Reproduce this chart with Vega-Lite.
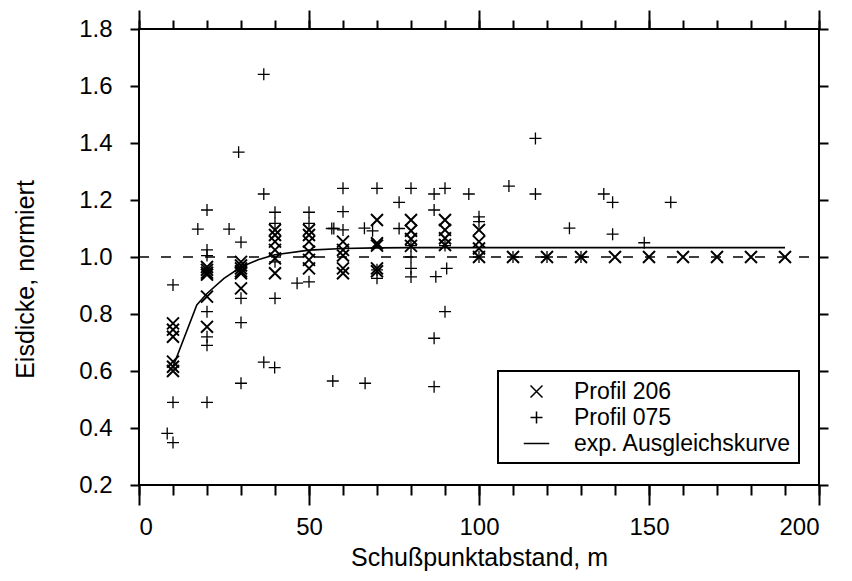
{
  "$schema": "https://vega.github.io/schema/vega-lite/v6.json",
  "width": 680,
  "height": 456,
  "autosize": "none",
  "padding": {"left": 139, "top": 29, "right": 33, "bottom": 96},
  "background": "white",
  "config": {
    "view": {"stroke": "black", "strokeWidth": 2},
    "font": "Liberation Sans",
    "axis": {
      "domain": false,
      "grid": false,
      "tickColor": "black",
      "tickWidth": 2,
      "labelColor": "black",
      "labelFont": "Liberation Sans",
      "labelFontSize": 24,
      "titleFont": "Liberation Sans",
      "titleFontSize": 25,
      "titleFontWeight": "normal",
      "titleColor": "black"
    },
    "legend": {"strokeWidth": 2}
  },
  "datasets": {
    "ref": [{"x": 0, "x2": 200, "y": 1.0}],
    "curve": [
      {"x": 10, "y": 0.615}, {"x": 17, "y": 0.832}, {"x": 20, "y": 0.872},
      {"x": 25, "y": 0.925}, {"x": 30, "y": 0.965}, {"x": 35, "y": 0.99},
      {"x": 40, "y": 1.008}, {"x": 50, "y": 1.024}, {"x": 60, "y": 1.03},
      {"x": 70, "y": 1.032}, {"x": 80, "y": 1.033}, {"x": 190, "y": 1.033}
    ],
    "p206": [
      {"x": 10, "y": 0.767, "series": "Profil 206"}, {"x": 10, "y": 0.745, "series": "Profil 206"},
      {"x": 10, "y": 0.72, "series": "Profil 206"}, {"x": 10, "y": 0.633, "series": "Profil 206"},
      {"x": 10, "y": 0.615, "series": "Profil 206"}, {"x": 10, "y": 0.6, "series": "Profil 206"},
      {"x": 20, "y": 0.965, "series": "Profil 206"}, {"x": 20, "y": 0.955, "series": "Profil 206"},
      {"x": 20, "y": 0.945, "series": "Profil 206"}, {"x": 20, "y": 0.938, "series": "Profil 206"},
      {"x": 20, "y": 0.861, "series": "Profil 206"}, {"x": 20, "y": 0.755, "series": "Profil 206"},
      {"x": 30, "y": 0.983, "series": "Profil 206"}, {"x": 30, "y": 0.97, "series": "Profil 206"},
      {"x": 30, "y": 0.96, "series": "Profil 206"}, {"x": 30, "y": 0.95, "series": "Profil 206"},
      {"x": 30, "y": 0.943, "series": "Profil 206"}, {"x": 30, "y": 0.89, "series": "Profil 206"},
      {"x": 40, "y": 1.095, "series": "Profil 206"}, {"x": 40, "y": 1.077, "series": "Profil 206"},
      {"x": 40, "y": 1.054, "series": "Profil 206"}, {"x": 40, "y": 1.025, "series": "Profil 206"},
      {"x": 40, "y": 0.995, "series": "Profil 206"}, {"x": 40, "y": 0.943, "series": "Profil 206"},
      {"x": 50, "y": 1.095, "series": "Profil 206"}, {"x": 50, "y": 1.077, "series": "Profil 206"},
      {"x": 50, "y": 1.054, "series": "Profil 206"}, {"x": 50, "y": 1.019, "series": "Profil 206"},
      {"x": 50, "y": 0.99, "series": "Profil 206"}, {"x": 50, "y": 0.96, "series": "Profil 206"},
      {"x": 60, "y": 1.054, "series": "Profil 206"}, {"x": 60, "y": 1.025, "series": "Profil 206"},
      {"x": 60, "y": 1.005, "series": "Profil 206"}, {"x": 60, "y": 0.96, "series": "Profil 206"},
      {"x": 60, "y": 0.943, "series": "Profil 206"},
      {"x": 70, "y": 1.13, "series": "Profil 206"}, {"x": 70, "y": 1.048, "series": "Profil 206"},
      {"x": 70, "y": 1.04, "series": "Profil 206"}, {"x": 70, "y": 0.96, "series": "Profil 206"},
      {"x": 70, "y": 0.95, "series": "Profil 206"},
      {"x": 80, "y": 1.13, "series": "Profil 206"}, {"x": 80, "y": 1.092, "series": "Profil 206"},
      {"x": 80, "y": 1.063, "series": "Profil 206"}, {"x": 80, "y": 1.039, "series": "Profil 206"},
      {"x": 90, "y": 1.13, "series": "Profil 206"}, {"x": 90, "y": 1.095, "series": "Profil 206"},
      {"x": 90, "y": 1.066, "series": "Profil 206"}, {"x": 90, "y": 1.042, "series": "Profil 206"},
      {"x": 100, "y": 1.095, "series": "Profil 206"}, {"x": 100, "y": 1.054, "series": "Profil 206"},
      {"x": 100, "y": 1.03, "series": "Profil 206"}, {"x": 100, "y": 1.0, "series": "Profil 206"},
      {"x": 110, "y": 1.0, "series": "Profil 206"}, {"x": 120, "y": 1.0, "series": "Profil 206"},
      {"x": 130, "y": 1.0, "series": "Profil 206"}, {"x": 140, "y": 1.0, "series": "Profil 206"},
      {"x": 150, "y": 1.0, "series": "Profil 206"}, {"x": 160, "y": 1.0, "series": "Profil 206"},
      {"x": 170, "y": 1.0, "series": "Profil 206"}, {"x": 180, "y": 1.0, "series": "Profil 206"},
      {"x": 190, "y": 1.0, "series": "Profil 206"}
    ],
    "p075": [
      {"x": 8.3, "y": 0.381, "series": "Profil 075"}, {"x": 10, "y": 0.349, "series": "Profil 075"},
      {"x": 10, "y": 0.49, "series": "Profil 075"}, {"x": 10, "y": 0.902, "series": "Profil 075"},
      {"x": 17.3, "y": 1.098, "series": "Profil 075"}, {"x": 20, "y": 1.165, "series": "Profil 075"},
      {"x": 20, "y": 1.025, "series": "Profil 075"}, {"x": 20, "y": 1.005, "series": "Profil 075"},
      {"x": 20, "y": 0.808, "series": "Profil 075"}, {"x": 20, "y": 0.72, "series": "Profil 075"},
      {"x": 20, "y": 0.69, "series": "Profil 075"}, {"x": 20, "y": 0.49, "series": "Profil 075"},
      {"x": 26.5, "y": 1.098, "series": "Profil 075"}, {"x": 29.3, "y": 1.368, "series": "Profil 075"},
      {"x": 30, "y": 1.052, "series": "Profil 075"}, {"x": 30, "y": 0.855, "series": "Profil 075"},
      {"x": 30, "y": 0.77, "series": "Profil 075"}, {"x": 30, "y": 0.557, "series": "Profil 075"},
      {"x": 36.7, "y": 1.641, "series": "Profil 075"}, {"x": 36.7, "y": 1.221, "series": "Profil 075"},
      {"x": 36.7, "y": 0.631, "series": "Profil 075"}, {"x": 40, "y": 1.157, "series": "Profil 075"},
      {"x": 40, "y": 1.118, "series": "Profil 075"}, {"x": 40, "y": 0.983, "series": "Profil 075"},
      {"x": 40, "y": 0.855, "series": "Profil 075"}, {"x": 39.9, "y": 0.612, "series": "Profil 075"},
      {"x": 46.5, "y": 0.908, "series": "Profil 075"}, {"x": 50, "y": 1.157, "series": "Profil 075"},
      {"x": 50, "y": 1.118, "series": "Profil 075"}, {"x": 50, "y": 0.913, "series": "Profil 075"},
      {"x": 56.7, "y": 1.1, "series": "Profil 075"}, {"x": 57.3, "y": 1.1, "series": "Profil 075"},
      {"x": 57, "y": 0.565, "series": "Profil 075"},
      {"x": 60, "y": 1.241, "series": "Profil 075"}, {"x": 60, "y": 1.159, "series": "Profil 075"},
      {"x": 60, "y": 1.095, "series": "Profil 075"},
      {"x": 66.3, "y": 1.101, "series": "Profil 075"}, {"x": 68.7, "y": 1.092, "series": "Profil 075"},
      {"x": 66.5, "y": 0.557, "series": "Profil 075"}, {"x": 70, "y": 1.241, "series": "Profil 075"},
      {"x": 70, "y": 0.955, "series": "Profil 075"}, {"x": 70, "y": 0.925, "series": "Profil 075"},
      {"x": 76.5, "y": 1.192, "series": "Profil 075"}, {"x": 76.5, "y": 1.1, "series": "Profil 075"},
      {"x": 80, "y": 1.241, "series": "Profil 075"}, {"x": 80, "y": 1.04, "series": "Profil 075"},
      {"x": 80, "y": 1.0, "series": "Profil 075"}, {"x": 80, "y": 0.96, "series": "Profil 075"},
      {"x": 80, "y": 0.93, "series": "Profil 075"},
      {"x": 86.8, "y": 1.221, "series": "Profil 075"}, {"x": 86.8, "y": 1.165, "series": "Profil 075"},
      {"x": 87.3, "y": 0.931, "series": "Profil 075"}, {"x": 86.8, "y": 0.715, "series": "Profil 075"},
      {"x": 86.8, "y": 0.545, "series": "Profil 075"},
      {"x": 90, "y": 1.241, "series": "Profil 075"}, {"x": 90, "y": 1.04, "series": "Profil 075"},
      {"x": 90.5, "y": 0.96, "series": "Profil 075"}, {"x": 90, "y": 0.808, "series": "Profil 075"},
      {"x": 97, "y": 1.221, "series": "Profil 075"}, {"x": 100, "y": 1.141, "series": "Profil 075"},
      {"x": 100, "y": 1.124, "series": "Profil 075"}, {"x": 100, "y": 1.0, "series": "Profil 075"},
      {"x": 108.8, "y": 1.249, "series": "Profil 075"}, {"x": 110, "y": 1.0, "series": "Profil 075"},
      {"x": 116.6, "y": 1.416, "series": "Profil 075"}, {"x": 116.6, "y": 1.221, "series": "Profil 075"},
      {"x": 120, "y": 1.0, "series": "Profil 075"}, {"x": 126.6, "y": 1.101, "series": "Profil 075"},
      {"x": 130, "y": 1.0, "series": "Profil 075"}, {"x": 136.7, "y": 1.221, "series": "Profil 075"},
      {"x": 139.3, "y": 1.192, "series": "Profil 075"}, {"x": 139.3, "y": 1.08, "series": "Profil 075"},
      {"x": 148.6, "y": 1.05, "series": "Profil 075"}, {"x": 156.4, "y": 1.192, "series": "Profil 075"}
    ]
  },
  "layer": [
    {
      "data": {"name": "ref"},
      "mark": {"type": "rule", "color": "black", "strokeWidth": 1.3, "strokeDash": [10, 12]},
      "encoding": {
        "x": {"field": "x", "type": "quantitative",
              "scale": {"domain": [0, 200], "nice": false, "zero": false},
              "axis": {"orient": "top", "values": [0, 50, 100, 150, 200], "tickSize": 19, "labels": false, "title": null}},
        "x2": {"field": "x2"},
        "y": {"field": "y", "type": "quantitative",
              "scale": {"domain": [0.2, 1.8], "nice": false, "zero": false},
              "axis": {"orient": "right", "values": [0.2, 0.4, 0.6, 0.8, 1.0, 1.2, 1.4, 1.6, 1.8], "tickSize": 9, "labels": false, "title": null}}
      }
    },
    {
      "data": {"name": "curve"},
      "mark": {"type": "line", "color": "black", "strokeWidth": 1.6},
      "encoding": {
        "x": {"field": "x", "type": "quantitative",
              "scale": {"domain": [0, 200], "nice": false, "zero": false},
              "axis": {"orient": "bottom", "values": [0, 10, 20, 30, 40, 50, 60, 70, 80, 90, 100, 110, 120, 130, 140, 150, 160, 170, 180, 190, 200], "tickSize": 10, "labels": false, "title": null}},
        "y": {"field": "y", "type": "quantitative",
              "scale": {"domain": [0.2, 1.8], "nice": false, "zero": false},
              "axis": null}
      }
    },
    {
      "data": {"name": "p206"},
      "mark": {"type": "point", "filled": false, "color": "black", "strokeWidth": 2, "size": 650, "opacity": 1},
      "encoding": {
        "x": {"field": "x", "type": "quantitative",
              "scale": {"domain": [0, 200], "nice": false, "zero": false},
              "axis": {"orient": "bottom", "values": [0, 50, 100, 150, 200], "format": "d", "tickSize": 20, "labelPadding": 10, "title": "Schußpunktabstand, m", "titlePadding": 6}},
        "y": {"field": "y", "type": "quantitative",
              "scale": {"domain": [0.2, 1.8], "nice": false, "zero": false},
              "axis": {"orient": "left", "values": [0.2, 0.4, 0.6, 0.8, 1.0, 1.2, 1.4, 1.6, 1.8], "format": ".1f", "tickSize": 9, "labelPadding": 18, "title": "Eisdicke, normiert", "titlePadding": 40, "titleY": 250}},
        "shape": {"field": "series", "type": "nominal",
                  "scale": {"domain": ["Profil 206", "Profil 075", "exp. Ausgleichskurve"],
                            "range": ["M-0.47,-0.47L0.47,0.47M-0.47,0.47L0.47,-0.47", "M-0.47,0L0.47,0M0,-0.47L0,0.47", "stroke"]},
                  "legend": {"orient": "none", "legendX": 359, "legendY": 342, "title": null,
                             "strokeColor": "black", "fillColor": "white", "padding": 7,
                             "symbolOffset": 18, "labelOffset": 24, "labelFontSize": 23, "labelFont": "Liberation Sans",
                             "labelLimit": 400,
                             "labelColor": "black", "symbolSize": 650, "symbolStrokeWidth": 1.5,
                             "symbolStrokeColor": "black", "rowPadding": 0}}
      }
    },
    {
      "data": {"name": "p075"},
      "mark": {"type": "point", "filled": false, "color": "black", "strokeWidth": 1.3, "size": 650, "opacity": 1},
      "encoding": {
        "x": {"field": "x", "type": "quantitative",
              "scale": {"domain": [0, 200], "nice": false, "zero": false},
              "axis": {"orient": "top", "values": [0, 10, 20, 30, 40, 50, 60, 70, 80, 90, 100, 110, 120, 130, 140, 150, 160, 170, 180, 190, 200], "tickSize": 9, "labels": false, "title": null}},
        "y": {"field": "y", "type": "quantitative",
              "scale": {"domain": [0.2, 1.8], "nice": false, "zero": false},
              "axis": null},
        "shape": {"field": "series", "type": "nominal"}
      }
    }
  ],
  "resolve": {"axis": {"x": "independent", "y": "independent"}}
}
